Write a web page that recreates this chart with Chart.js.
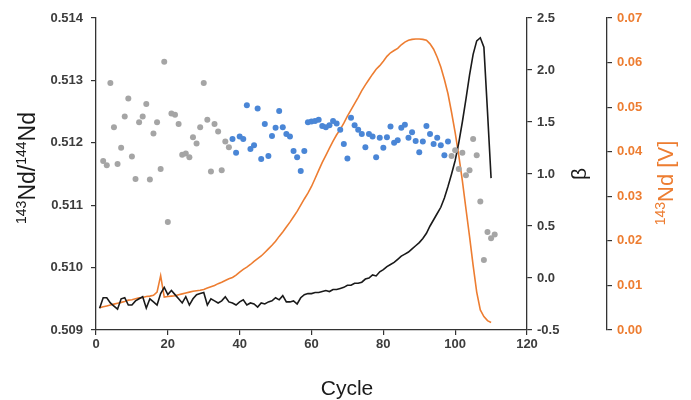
<!DOCTYPE html>
<html><head><meta charset="utf-8">
<script src="https://cdn.jsdelivr.net/npm/chart.js@4.4.0/dist/chart.umd.min.js"></script>
<style>html,body{margin:0;padding:0;background:#fff;}#wrap{width:691px;height:400px;}</style>
</head><body><div id="wrap"><canvas id="c" width="691" height="400"></canvas></div>
<script>
// ---- data ----
const cycles = [1,2,3,4,5,6,7,8,9,10,11,12,13,14,15,16,17,18,19,20,21,22,23,24,25,26,27,28,29,30,31,32,33,34,35,36,37,38,39,40,41,42,43,44,45,46,47,48,49,50,51,52,53,54,55,56,57,58,59,60,61,62,63,64,65,66,67,68,69,70,71,72,73,74,75,76,77,78,79,80,81,82,83,84,85,86,87,88,89,90,91,92,93,94,95,96,97,98,99,100,101,102,103,104,105,106,107,108,109,110];
const betaValues = [-0.29,-0.19,-0.19,-0.24,-0.27,-0.30,-0.20,-0.19,-0.26,-0.26,-0.22,-0.20,-0.18,-0.29,-0.20,-0.23,-0.26,-0.15,-0.09,-0.16,-0.12,-0.16,-0.20,-0.24,-0.18,-0.26,-0.20,-0.16,-0.15,-0.14,-0.26,-0.20,-0.22,-0.24,-0.22,-0.18,-0.23,-0.24,-0.26,-0.23,-0.21,-0.26,-0.24,-0.25,-0.28,-0.24,-0.25,-0.23,-0.22,-0.19,-0.21,-0.17,-0.23,-0.23,-0.22,-0.25,-0.19,-0.16,-0.15,-0.15,-0.14,-0.14,-0.13,-0.12,-0.13,-0.11,-0.11,-0.10,-0.09,-0.07,-0.07,-0.05,-0.05,-0.04,-0.01,0.00,0.03,0.02,0.06,0.08,0.11,0.13,0.15,0.18,0.21,0.23,0.25,0.28,0.31,0.34,0.38,0.43,0.50,0.56,0.62,0.68,0.77,0.88,1.00,1.13,1.30,1.50,1.72,1.95,2.15,2.28,2.31,2.22,1.60,0.96];
const ndSignal = [0.0050,0.0052,0.0054,0.0056,0.0058,0.0060,0.0062,0.0064,0.0067,0.0068,0.0070,0.0072,0.0073,0.0075,0.0076,0.0078,0.0085,0.0122,0.0074,0.0075,0.0076,0.0077,0.0079,0.0081,0.0083,0.0085,0.0087,0.0088,0.0089,0.0091,0.0094,0.0097,0.0100,0.0104,0.0107,0.0111,0.0115,0.0118,0.0123,0.0130,0.0136,0.0141,0.0147,0.0154,0.0160,0.0166,0.0174,0.0182,0.0190,0.0199,0.0210,0.0220,0.0231,0.0242,0.0254,0.0266,0.0280,0.0294,0.0307,0.0322,0.0340,0.0358,0.0376,0.0392,0.0408,0.0424,0.0438,0.0450,0.0464,0.0480,0.0494,0.0508,0.0522,0.0537,0.0550,0.0562,0.0574,0.0585,0.0593,0.0603,0.0614,0.0622,0.0627,0.0632,0.0640,0.0646,0.0650,0.0652,0.0653,0.0653,0.0652,0.0650,0.0642,0.0630,0.0612,0.0590,0.0562,0.0530,0.0488,0.0443,0.0392,0.0335,0.0272,0.0210,0.0145,0.0085,0.0045,0.0030,0.0021,0.0017];

const grayCyclesA = [2,3,4,5,6,7,8,9,10,11,12,13,14,15,16,17,18,19,20,21,22,23,24,25,26,27,28,29,30,31,32,33,34,35,36,37];
const grayRatiosA = [0.51171,0.51164,0.51296,0.51225,0.51166,0.51192,0.51242,0.51271,0.51178,0.51142,0.51233,0.51242,0.51262,0.51141,0.51215,0.51233,0.51158,0.51330,0.51073,0.51247,0.51245,0.51230,0.51181,0.51183,0.51177,0.51209,0.51199,0.51225,0.51296,0.51237,0.51154,0.51230,0.51218,0.51156,0.51202,0.51193];
const blueCycles = [38,39,40,41,42,43,44,45,46,47,48,49,50,51,52,53,54,55,56,57,58,59,60,61,62,63,64,65,66,67,68,69,70,71,72,73,74,75,76,77,78,79,80,81,82,83,84,85,86,87,88,89,90,91,92,93,94,95,96,97,98];
const blueRatios = [0.51206,0.51184,0.51210,0.51206,0.51260,0.51190,0.51196,0.51255,0.51174,0.51230,0.51179,0.51211,0.51224,0.51251,0.51225,0.51214,0.51210,0.51187,0.51177,0.51155,0.51187,0.51233,0.51234,0.51235,0.51237,0.51227,0.51225,0.51228,0.51235,0.51231,0.51221,0.51198,0.51175,0.51240,0.51228,0.51221,0.51214,0.51193,0.51214,0.51210,0.51177,0.51208,0.51192,0.51209,0.51226,0.51200,0.51204,0.51224,0.51229,0.51208,0.51217,0.51203,0.51185,0.51202,0.51227,0.51214,0.51198,0.51208,0.51196,0.51180,0.51202];
const grayCyclesB = [99,100,101,102,103,104,105,106,107,108,109,110,111];
const grayRatiosB = [0.51179,0.51188,0.51158,0.51184,0.51148,0.51156,0.51206,0.51180,0.51106,0.51012,0.51057,0.51047,0.51053];

const xTickLabels = ['0','20','40','60','80','100','120'];
const ratioTickLabels = ['0.509','0.510','0.511','0.512','0.513','0.514'];
const betaTickLabels = ['-0.5','0.0','0.5','1.0','1.5','2.0','2.5'];
const ndTickLabels = ['0.00','0.01','0.02','0.03','0.04','0.05','0.06','0.07'];

// ---- styling ----
const FONT = "'Liberation Sans', Arial, sans-serif";
const AXIS = '#333333';
const TICKTXT = '#3c3c3c';
const ORANGE = '#ED7D31';
const pts = (xs, ys) => xs.map((x, i) => ({x: x, y: ys[i]}));

function tickSet(labels){ return labels.map(l => ({value: parseFloat(l)})); }

const gridCfg = {drawOnChartArea:false, drawTicks:true, tickLength:5, color:AXIS, lineWidth:1.2};
const borderCfg = {display:true, color:AXIS, width:1.3};

function richText(ctx, parts, size, color){
  // parts: [text, isSup]
  const supSize = Math.round(size*0.62);
  let w = 0;
  parts.forEach(p => { ctx.font = (p[1]?supSize:size) + 'px ' + FONT; w += ctx.measureText(p[0]).width; });
  let x = -w/2;
  ctx.fillStyle = color;
  ctx.textBaseline = 'alphabetic';
  ctx.textAlign = 'left';
  parts.forEach(p => {
    ctx.font = (p[1]?supSize:size) + 'px ' + FONT;
    ctx.fillText(p[0], x, p[1] ? -size*0.38 : 0);
    x += ctx.measureText(p[0]).width;
  });
}

const titlePlugin = {
  id: 'titles',
  afterDraw(chart){
    const ctx = chart.ctx;
    const ca = chart.chartArea;
    ctx.save();
    // x title
    ctx.font = '21px ' + FONT; ctx.fillStyle = '#1a1a1a';
    ctx.textAlign = 'center'; ctx.textBaseline = 'alphabetic';
    ctx.fillText('Cycle', ca.left + 251, 395);
    ctx.restore();
    // left title
    ctx.save();
    ctx.translate(35, 168); ctx.rotate(-Math.PI/2);
    richText(ctx, [['143',true],['Nd/',false],['144',true],['Nd',false]], 23, '#1a1a1a');
    ctx.restore();
    // beta title
    ctx.save();
    ctx.translate(586, 174); ctx.rotate(-Math.PI/2);
    richText(ctx, [['β',false]], 21, '#1a1a1a');
    ctx.restore();
    // Nd signal title
    ctx.save();
    ctx.translate(673, 183); ctx.rotate(-Math.PI/2);
    richText(ctx, [['143',true],['Nd [V]',false]], 22, ORANGE);
    ctx.restore();
  }
};

new Chart(document.getElementById('c'), {
  type: 'line',
  data: {
    datasets: [
      {label:'ratio (excluded, start)', data: pts(grayCyclesA, grayRatiosA), showLine:false, pointRadius:3, pointBorderWidth:0, backgroundColor:'#A5A5A5', borderColor:'#A5A5A5', yAxisID:'y', order:1},
      {label:'ratio (used)', data: pts(blueCycles, blueRatios), showLine:false, pointRadius:3, pointBorderWidth:0, backgroundColor:'#4A86D6', borderColor:'#4A86D6', yAxisID:'y', order:1},
      {label:'ratio (excluded, end)', data: pts(grayCyclesB, grayRatiosB), showLine:false, pointRadius:3, pointBorderWidth:0, backgroundColor:'#A5A5A5', borderColor:'#A5A5A5', yAxisID:'y', order:1},
      {label:'β', data: pts(cycles, betaValues), borderColor:'#1a1a1a', borderWidth:1.6, pointRadius:0, fill:false, tension:0, yAxisID:'y1', order:2},
      {label:'143Nd [V]', data: pts(cycles, ndSignal), borderColor:ORANGE, borderWidth:1.6, pointRadius:0, fill:false, tension:0, yAxisID:'y2', order:3}
    ]
  },
  options: {
    responsive:false, animation:false, devicePixelRatio:1,
    layout:{padding:{top:18, left:0, right:0, bottom:0}},
    plugins:{legend:{display:false}, tooltip:{enabled:false}},
    scales:{
      x:{type:'linear', position:'bottom', min:0, max:120,
         afterBuildTicks: s => { s.ticks = tickSet(xTickLabels); },
         afterFit: s => { s.height = 70; },
         grid:gridCfg, border:borderCfg,
         ticks:{color:TICKTXT, font:{family:FONT, size:13, weight:'bold'}, padding:2, maxRotation:0, callback:(v)=>String(v)}},
      y:{type:'linear', position:'left', min:0.509, max:0.514,
         afterBuildTicks: s => { s.ticks = tickSet(ratioTickLabels); },
         afterFit: s => { s.width = 96; },
         grid:gridCfg, border:borderCfg,
         ticks:{color:TICKTXT, font:{family:FONT, size:13, weight:'bold'}, padding:8, callback:(v)=>v.toFixed(3)}},
      y1:{type:'linear', position:'right', weight:1, min:-0.5, max:2.5,
         afterBuildTicks: s => { s.ticks = tickSet(betaTickLabels); },
         afterFit: s => { s.width = 80; },
         grid:gridCfg, border:borderCfg,
         ticks:{color:TICKTXT, font:{family:FONT, size:13, weight:'bold'}, padding:5, callback:(v)=>v.toFixed(1)}},
      y2:{type:'linear', position:'right', weight:2, min:0, max:0.07,
         afterBuildTicks: s => { s.ticks = tickSet(ndTickLabels); },
         afterFit: s => { s.width = 84; },
         grid:gridCfg, border:borderCfg,
         ticks:{color:ORANGE, font:{family:FONT, size:13, weight:'bold'}, padding:5, callback:(v)=>v.toFixed(2)}}
    }
  },
  plugins:[titlePlugin]
});
</script></body></html>
